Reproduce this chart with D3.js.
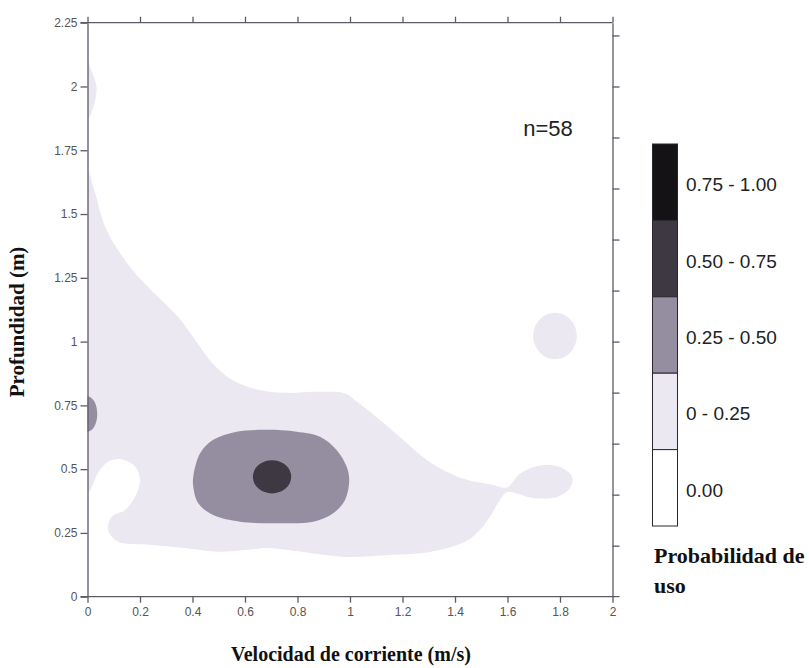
<!DOCTYPE html>
<html>
<head>
<meta charset="utf-8">
<script src="https://cdn.jsdelivr.net/npm/d3@7"></script>
<style>
    body { margin: 0; background: #fff; }
    svg text { font-family: "Liberation Sans", Arial, sans-serif; }
    .title { font-family: "Liberation Serif", "Times New Roman", serif !important; font-weight: bold; }
</style>
</head>
<body>
<div id="chart"><svg></svg></div>
<script>
// classes of probability of use
const classLabels = ["0.00", "0 - 0.25", "0.25 - 0.50", "0.50 - 0.75", "0.75 - 1.00"];
const classColors = ["#ffffff", "#ebe8f1", "#958ea1", "#3d3841", "#151216"];

const xTicks = [0, 0.2, 0.4, 0.6, 0.8, 1, 1.2, 1.4, 1.6, 1.8, 2];
const xTickLabels = ["0", "0.2", "0.4", "0.6", "0.8", "1", "1.2", "1.4", "1.6", "1.8", "2"];
const yTicks = [0, 0.25, 0.5, 0.75, 1, 1.25, 1.5, 1.75, 2, 2.25];
const yTickLabels = ["0", "0.25", "0.5", "0.75", "1", "1.25", "1.5", "1.75", "2", "2.25"];
const rightTicks = [0.2, 0.4, 0.6, 0.8, 1, 1.2, 1.4, 1.6, 1.8, 2, 2.2];

// contour outlines: [velocity (m/s), depth (m)]
// main 0 - 0.25 area, starts and ends on the depth axis
const mainOutline = [
    [0, 1.686], [0.029, 1.583], [0.067, 1.45], [0.116, 1.36], [0.181, 1.269],
    [0.269, 1.175], [0.345, 1.097], [0.41, 1.007], [0.474, 0.917], [0.55, 0.85],
    [0.65, 0.811], [0.752, 0.799], [0.878, 0.803], [0.981, 0.797], [1.027, 0.764],
    [1.114, 0.693], [1.19, 0.626], [1.278, 0.548], [1.354, 0.497], [1.446, 0.458],
    [1.545, 0.438], [1.598, 0.428], [1.648, 0.482], [1.724, 0.514], [1.8, 0.508],
    [1.846, 0.47], [1.838, 0.426], [1.789, 0.391], [1.697, 0.387], [1.636, 0.405],
    [1.598, 0.41], [1.571, 0.379], [1.533, 0.313], [1.484, 0.25], [1.43, 0.211],
    [1.305, 0.175], [1.152, 0.163], [0.981, 0.156], [0.816, 0.176], [0.688, 0.191],
    [0.6, 0.183], [0.497, 0.176], [0.371, 0.191], [0.246, 0.203], [0.116, 0.216],
    [0.078, 0.262], [0.093, 0.314], [0.143, 0.34], [0.181, 0.392], [0.2, 0.458],
    [0.181, 0.51], [0.13, 0.539], [0.078, 0.529], [0.04, 0.485], [0.017, 0.431],
    [0, 0.399]
];
// small 0 - 0.25 lobe near 2 m depth, on the depth axis
const topLobe = [
    [0, 2.111], [0.012, 2.07], [0.03, 2.02], [0.035, 1.99], [0.028, 1.94],
    [0.012, 1.89], [0, 1.863]
];
// 0.25 - 0.50 area
const midOutline = [
    [0.403, 0.471], [0.429, 0.562], [0.479, 0.615], [0.568, 0.647], [0.683, 0.654],
    [0.797, 0.647], [0.886, 0.627], [0.949, 0.575], [0.987, 0.51], [0.997, 0.458],
    [0.981, 0.379], [0.936, 0.327], [0.86, 0.294], [0.733, 0.288], [0.581, 0.294],
    [0.479, 0.32], [0.422, 0.366], [0.403, 0.431]
];
// round spots: centre and radii in data units, with their class
const spotV = [1.781, 0, 0.703];
const spotD = [1.022, 0.716, 0.47];
const spotRV = [0.083, 0.037, 0.073];
const spotRD = [0.091, 0.069, 0.065];
const spotClass = [1, 2, 3];

const sampleSize = 58;

const svg = d3.select("#chart svg").attr("width", 809).attr("height", 668);

const x = d3.scaleLinear().domain([0, 2]).range([87.5, 612.5]);
const y = d3.scaleLinear().domain([0, 2.25]).range([596.7, 22.7]);

svg.append("defs").append("clipPath").attr("id", "plotClip")
    .append("rect")
    .attr("x", x(0)).attr("y", y(2.25))
    .attr("width", x(2) - x(0)).attr("height", y(0) - y(2.25));

const plot = svg.append("g").attr("clip-path", "url(#plotClip)");

const openLine = d3.line().x(d => x(d[0])).y(d => y(d[1])).curve(d3.curveCatmullRom.alpha(0.5));
const closedLine = d3.line().x(d => x(d[0])).y(d => y(d[1])).curve(d3.curveCatmullRomClosed.alpha(0.5));

// areas that lean on the axis get closed with a straight run down the axis
plot.selectAll(".edge-area")
    .data([mainOutline, topLobe])
    .join("path")
    .attr("class", "edge-area")
    .attr("d", d => openLine(d) + "Z")
    .attr("fill", classColors[1]);

plot.append("path")
    .attr("d", closedLine(midOutline))
    .attr("fill", classColors[2]);

plot.selectAll(".spot")
    .data(d3.range(spotV.length))
    .join("ellipse")
    .attr("class", "spot")
    .attr("cx", i => x(spotV[i]))
    .attr("cy", i => y(spotD[i]))
    .attr("rx", i => x(spotRV[i]) - x(0))
    .attr("ry", i => y(0) - y(spotRD[i]))
    .attr("fill", i => classColors[spotClass[i]]);

// axes
const axisColor = "#5f5968";
function styleAxis(g) {
    g.selectAll("path, line").attr("stroke", axisColor).attr("stroke-width", 1.3);
    g.selectAll("text").attr("fill", "#555").style("font-size", "12px");
}

svg.append("g")
    .attr("transform", `translate(0,${y(0)})`)
    .call(d3.axisBottom(x).tickValues(xTicks).tickSize(6).tickSizeOuter(0)
        .tickPadding(5).tickFormat((d, i) => xTickLabels[i]))
    .call(styleAxis)
    .call(g => g.select(".domain").attr("d", `M${x(0) - 7},0H${x(2) + 7}`));

svg.append("g")
    .attr("transform", `translate(0,${y(2.25)})`)
    .call(d3.axisTop(x).tickValues(xTicks).tickSize(6).tickSizeOuter(0).tickFormat(""))
    .call(styleAxis)
    .call(g => g.select(".domain").attr("d", `M${x(0) - 7},0H${x(2)}`));

svg.append("g")
    .attr("transform", `translate(${x(0)},0)`)
    .call(d3.axisLeft(y).tickValues(yTicks).tickSize(7).tickSizeOuter(0)
        .tickPadding(3).tickFormat((d, i) => yTickLabels[i]))
    .call(styleAxis);

svg.append("g")
    .attr("transform", `translate(${x(2)},0)`)
    .call(d3.axisRight(y).tickValues(rightTicks).tickSize(7).tickSizeOuter(0).tickFormat(""))
    .call(styleAxis);

// axis titles
svg.append("text")
    .attr("class", "title")
    .attr("x", 351)
    .attr("y", 661)
    .attr("text-anchor", "middle")
    .style("font-size", "20px")
    .attr("fill", "#111")
    .text("Velocidad de corriente (m/s)");

svg.append("text")
    .attr("class", "title")
    .attr("transform", "translate(24,322) rotate(-90)")
    .attr("text-anchor", "middle")
    .style("font-size", "21px")
    .attr("fill", "#111")
    .text("Profundidad (m)");

svg.append("text")
    .attr("x", 548)
    .attr("y", 136)
    .attr("text-anchor", "middle")
    .style("font-size", "22px")
    .attr("fill", "#222")
    .text(`n=${sampleSize}`);

// legend, highest class on top
const legendOrder = d3.range(classLabels.length).reverse();
const ly = d3.scaleBand().domain(legendOrder).range([144, 526]);

const legend = svg.append("g").attr("class", "legend");

legend.selectAll("rect")
    .data(legendOrder)
    .join("rect")
    .attr("x", 652.5)
    .attr("y", d => ly(d))
    .attr("width", 25)
    .attr("height", ly.bandwidth())
    .attr("fill", d => classColors[d])
    .attr("stroke", "#2a262c")
    .attr("stroke-width", 1);

legend.selectAll("text")
    .data(legendOrder)
    .join("text")
    .attr("x", 686)
    .attr("y", d => ly(d) + ly.bandwidth() / 2 + 4)
    .attr("dominant-baseline", "middle")
    .style("font-size", "19px")
    .attr("fill", "#222")
    .text(d => classLabels[d]);

legend.selectAll(".title")
    .data(["Probabilidad de", "uso"])
    .join("text")
    .attr("class", "title")
    .attr("x", 654)
    .attr("y", (d, i) => 563 + i * 30)
    .style("font-size", "22px")
    .attr("fill", "#111")
    .text(d => d);
</script>
</body>
</html>
